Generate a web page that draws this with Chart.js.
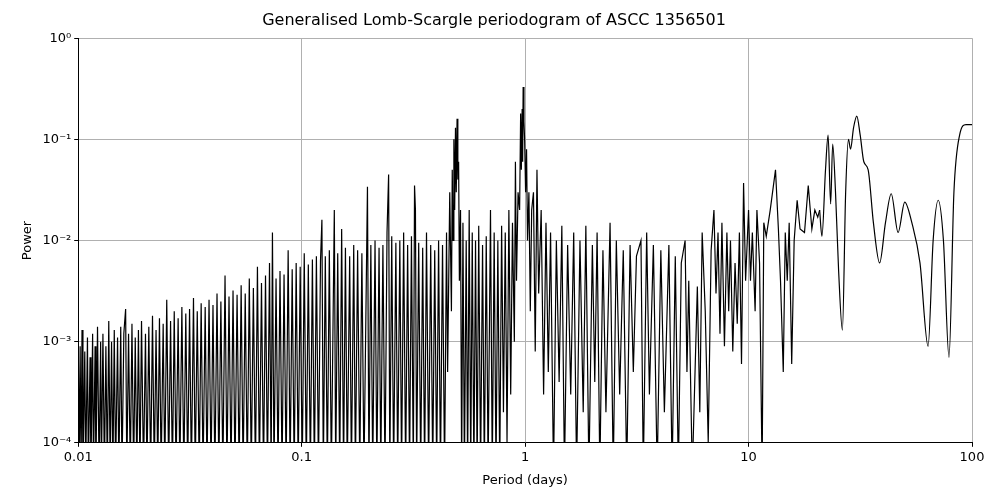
<!DOCTYPE html>
<html><head><meta charset="utf-8">
<script src="https://cdn.jsdelivr.net/npm/chart.js@4"></script>
<style>body{margin:0;background:#fff}#w{width:1000px;height:500px}</style>
</head><body><div id="w"><canvas id="c"></canvas></div>
<script>
// [period (days), power] pairs
const shortPeriods = [
[0.0100,0.0012],[0.0101,0.00005],[0.0102,0.0009],[0.0103,0.00005],[0.0104,0.0013],[0.0105,0.00005],[0.0107,0.0008],[0.0108,0.00005],[0.0110,0.0011],[0.0111,0.00005],
[0.0113,0.0007],[0.0114,0.00005],[0.0116,0.0012],[0.0117,0.00005],[0.0119,0.0009],[0.0120,0.00005],[0.0122,0.0014],[0.0124,0.00005],[0.0126,0.0010],[0.0127,0.00005],
[0.0129,0.0012],[0.0131,0.00005],[0.0133,0.0009],[0.0135,0.00005],[0.0137,0.0016],[0.0139,0.00005],[0.0141,0.0010],[0.0143,0.00005],[0.0145,0.0013],[0.0147,0.00005],
[0.0150,0.0011],[0.0152,0.00005],[0.0155,0.0014],[0.0157,0.00005],[0.0160,0.0012],[0.0163,0.0021],[0.0165,0.00005],[0.0168,0.0012],[0.0171,0.00005],[0.0174,0.0015],
[0.0177,0.00005],[0.0180,0.0011],[0.0183,0.00005],[0.0186,0.0013],[0.0189,0.00005],[0.0192,0.0016],[0.0196,0.00005],[0.0200,0.0012],[0.0203,0.00005],[0.0207,0.0014],
[0.0211,0.00005],[0.0215,0.0018],[0.0219,0.00005],[0.0223,0.0013],[0.0227,0.00005],[0.0231,0.0017],[0.0235,0.00005],[0.0240,0.0015],[0.0244,0.00005],[0.0249,0.0026],
[0.0254,0.00005],[0.0259,0.0016],[0.0264,0.00005],[0.0269,0.0020],[0.0274,0.00005],[0.0280,0.0017],[0.0285,0.00005],[0.0291,0.0022],[0.0297,0.00005],[0.0303,0.0019],
[0.0309,0.00005],[0.0315,0.0021],[0.0321,0.00005],[0.0328,0.0027],[0.0334,0.00005],[0.0341,0.0020],[0.0348,0.00005],[0.0355,0.0024],[0.0362,0.00005],[0.0370,0.0022],
[0.0377,0.00005],[0.0385,0.0026],[0.0393,0.00005],[0.0401,0.0023],[0.0409,0.00005],[0.0418,0.0030],[0.0426,0.00005],[0.0435,0.0025],[0.0444,0.00005],[0.0454,0.0045],
[0.0463,0.00005],[0.0473,0.0028],[0.0483,0.00005],[0.0493,0.0032],[0.0503,0.00005],[0.0514,0.0029],[0.0525,0.00005],[0.0536,0.0036],[0.0547,0.00005],[0.0559,0.0030],
[0.0571,0.00005],[0.0583,0.0042],[0.0595,0.00005],[0.0608,0.0034],[0.0621,0.00005],[0.0634,0.0055],[0.0647,0.00005],[0.0661,0.0038],[0.0675,0.00005],[0.0689,0.0045],
[0.0703,0.00005],[0.0718,0.0060],[0.0730,0.00005],[0.0740,0.012],[0.0752,0.00005],[0.0768,0.0042],[0.0784,0.00005],[0.0800,0.0050],[0.0817,0.00005],[0.0834,0.0046],
[0.0852,0.00005],[0.0870,0.0080],[0.0888,0.00005],[0.0907,0.0052],[0.0926,0.00005],[0.0945,0.0060],[0.0965,0.00005],[0.0985,0.0055],[0.1006,0.00005],[0.1027,0.0075],
[0.1049,0.00005],[0.1071,0.0058],[0.1094,0.00005],[0.1117,0.0065],[0.1140,0.00005],[0.1164,0.0070],[0.1189,0.00005],[0.1214,0.0062],[0.1232,0.016],[0.1250,0.00005],
[0.1276,0.0070],[0.1303,0.00005],[0.1330,0.0080],[0.1358,0.00005],[0.1400,0.020],[0.1420,0.00005],[0.1450,0.0075],[0.1480,0.00005],[0.1510,0.013],[0.1540,0.00005],
[0.1570,0.0085],[0.1600,0.00005],[0.1640,0.0070],[0.1670,0.00005],[0.1710,0.0090],[0.1740,0.00005],[0.1780,0.0080],[0.1820,0.00005],[0.1860,0.0075],[0.1900,0.00005],
[0.1970,0.034],[0.2000,0.00005],[0.2040,0.0090],[0.2080,0.00005],[0.2130,0.010],[0.2170,0.00005],[0.2220,0.0085],[0.2260,0.00005],[0.2310,0.0090],[0.2360,0.00005],
[0.2410,0.012],[0.2450,0.045],[0.2480,0.00005],[0.2530,0.011],[0.2580,0.00005],[0.2640,0.0095],[0.2690,0.00005],[0.2750,0.010],[0.2800,0.00005],[0.2860,0.012],
[0.2920,0.00005],[0.2980,0.0090],[0.3040,0.00005],[0.3100,0.011],[0.3160,0.00005],[0.3200,0.035],[0.3230,0.020],[0.3270,0.00005],[0.3340,0.0095],[0.3410,0.00005],
[0.3480,0.0085],[0.3550,0.00005],[0.3620,0.012],[0.3700,0.00005],[0.3780,0.0090],[0.3860,0.00005],[0.3940,0.0080],[0.4020,0.00005]
];
const midPeriods = [
[0.410,0.010],[0.418,0.00005],[0.427,0.009],[0.436,0.00005],[0.445,0.012],[0.450,0.0005],[0.460,0.030],[0.468,0.002],[0.472,0.050],[0.476,0.010],
[0.480,0.100],[0.484,0.020],[0.488,0.130],[0.492,0.030],[0.496,0.160],[0.500,0.040],[0.504,0.060],[0.508,0.004],[0.514,0.020],[0.520,0.00005],
[0.527,0.015],[0.535,0.00005],[0.545,0.010],[0.553,0.00005],[0.562,0.020],[0.571,0.00005],[0.580,0.012],[0.590,0.00005],[0.600,0.010],[0.610,0.00005],
[0.620,0.014],[0.632,0.00005],[0.645,0.009],[0.657,0.00005],[0.670,0.011],[0.683,0.00005],[0.700,0.020],[0.713,0.00005],[0.727,0.012],[0.741,0.00005],
[0.755,0.010],[0.770,0.00005],[0.785,0.014],[0.800,0.0002],[0.815,0.012],[0.830,0.0001],[0.846,0.020],[0.862,0.0003],[0.878,0.015],[0.895,0.001],
[0.905,0.060],[0.915,0.004],[0.930,0.030],[0.945,0.020],[0.955,0.180],[0.962,0.050],[0.970,0.200],[0.975,0.060],[0.980,0.330],[0.988,0.150],
[0.995,0.100],[1.005,0.030],[1.015,0.080],[1.025,0.010],[1.040,0.030],[1.055,0.002],[1.070,0.020],[1.090,0.030],[1.110,0.0008],[1.130,0.050],
[1.150,0.003],[1.180,0.020],[1.210,0.0003],[1.240,0.015],[1.270,0.0005],[1.300,0.012],[1.340,0.00005],[1.380,0.010],[1.420,0.0004],[1.460,0.014],
[1.500,0.00005],[1.550,0.009],[1.600,0.0003],[1.650,0.012],[1.700,0.00005],[1.760,0.010],[1.820,0.0002],[1.870,0.014],[1.930,0.00005],[2.000,0.009],
[2.050,0.0004],[2.100,0.012],[2.160,0.00005],[2.230,0.008],[2.300,0.0002],[2.400,0.015],[2.480,0.00005],[2.560,0.010],[2.650,0.0003],[2.750,0.008],
[2.850,0.00005],[2.950,0.009],[3.050,0.0005],[3.150,0.007],[3.300,0.010],[3.380,0.00005],[3.500,0.012],[3.600,0.0003],[3.750,0.009],[3.900,0.00005],
[4.050,0.008],[4.200,0.0002],[4.400,0.009],[4.550,0.00005],[4.700,0.007],[4.850,0.00005],[5.000,0.006],[5.200,0.010],[5.300,0.0005],[5.400,0.004]
];
const longPeriods = [
[5.6,0.00005],[5.9,0.0035],[6.05,0.0002],[6.2,0.012],[6.4,0.002],[6.6,0.0001],[6.8,0.008],[7.0,0.020],[7.15,0.003],[7.3,0.012],
[7.45,0.0012],[7.6,0.015],[7.8,0.0009],[8.0,0.012],[8.15,0.002],[8.3,0.010],[8.5,0.0008],[8.7,0.006],[8.9,0.0015],[9.1,0.012],
[9.3,0.0006],[9.5,0.037],[9.7,0.004],[10.0,0.020],[10.2,0.004],[10.4,0.012],[10.7,0.002],[10.9,0.020],[11.2,0.006],[11.5,0.00005],
[11.7,0.015],[12.0,0.011],[12.5,0.020],[13.2,0.050],[13.6,0.013],[13.9,0.004],[14.3,0.0005],[14.6,0.012],[14.9,0.004],[15.2,0.015],
[15.6,0.0006],[16.0,0.010],[16.5,0.025],[17.0,0.013],[17.8,0.012],[18.5,0.035],[19.2,0.013],[19.8,0.020],[20.4,0.017],[20.8,0.020]
];
const smoothPeriods = [
[20.8,0.020],[21.3,0.011],[22.1,0.050],[22.7,0.110],[23.3,0.023],[23.8,0.090],[24.5,0.030],[25.3,0.005],[26.3,0.0013],[27.2,0.030],[28.0,0.100],
[28.6,0.080],[29.5,0.130],[30.5,0.170],[31.6,0.110],[32.8,0.060],[34.3,0.050],[36.2,0.015],[38.6,0.006],[41.0,0.015],[43.5,0.029],
[46.7,0.012],[50.0,0.024],[53.8,0.015],[58.5,0.006],[63.6,0.0009],[67.0,0.010],[70.6,0.025],[74.5,0.010],[78.9,0.0007],[83.0,0.030],
[88.0,0.110],[94.0,0.140],[100.0,0.140]
];
const xTicks=[0.01,0.1,1,10,100], xLabels=['0.01','0.1','1','10','100'];
const yTicks=[1e-4,1e-3,1e-2,1e-1,1], yLabels=['10⁻⁴','10⁻³','10⁻²','10⁻¹','10⁰'];
const toPts = a => a.map(([p,v])=>({x:p,y:v}));
const line = {showLine:true,borderColor:'#000',borderWidth:1.2,pointRadius:0};
new Chart(document.getElementById('c'),{
 type:'scatter',
 data:{datasets:[
  {...line,data:toPts([...shortPeriods,...midPeriods,...longPeriods]),tension:0},
  {...line,data:toPts(smoothPeriods),cubicInterpolationMode:'monotone'}]},
 options:{responsive:true,maintainAspectRatio:false,animation:false,
  layout:{padding:{left:16,right:28,top:3,bottom:8}},
  plugins:{legend:{display:false},tooltip:{enabled:false},
   title:{display:true,text:'Generalised Lomb-Scargle periodogram of ASCC 1356501',color:'#000',font:{family:'DejaVu Sans',size:16,weight:'normal'},padding:{top:8,bottom:8}}},
  scales:{
   x:{type:'logarithmic',min:0.01,max:100,
    afterBuildTicks:a=>{a.ticks=xTicks.map(v=>({value:v}))},
    ticks:{color:'#000',font:{family:'DejaVu Sans',size:13},callback:(v)=>xLabels[xTicks.indexOf(v)]??'',maxRotation:0},
    grid:{color:'#b0b0b0',tickColor:'#000',tickLength:4},border:{color:'#000'},
    title:{display:true,text:'Period (days)',color:'#000',font:{family:'DejaVu Sans',size:13}}},
   y:{type:'logarithmic',min:1e-4,max:1,
    afterBuildTicks:a=>{a.ticks=yTicks.map(v=>({value:v}))},
    ticks:{color:'#000',font:{family:'DejaVu Sans',size:13},callback:(v)=>{const i=yTicks.findIndex(t=>Math.abs(t-v)/t<1e-6);return i>=0?yLabels[i]:''}},
    grid:{color:'#b0b0b0',tickColor:'#000',tickLength:4},border:{color:'#000'},
    title:{display:true,text:'Power',color:'#000',font:{family:'DejaVu Sans',size:13}}}
  }}
});
</script></body></html>
